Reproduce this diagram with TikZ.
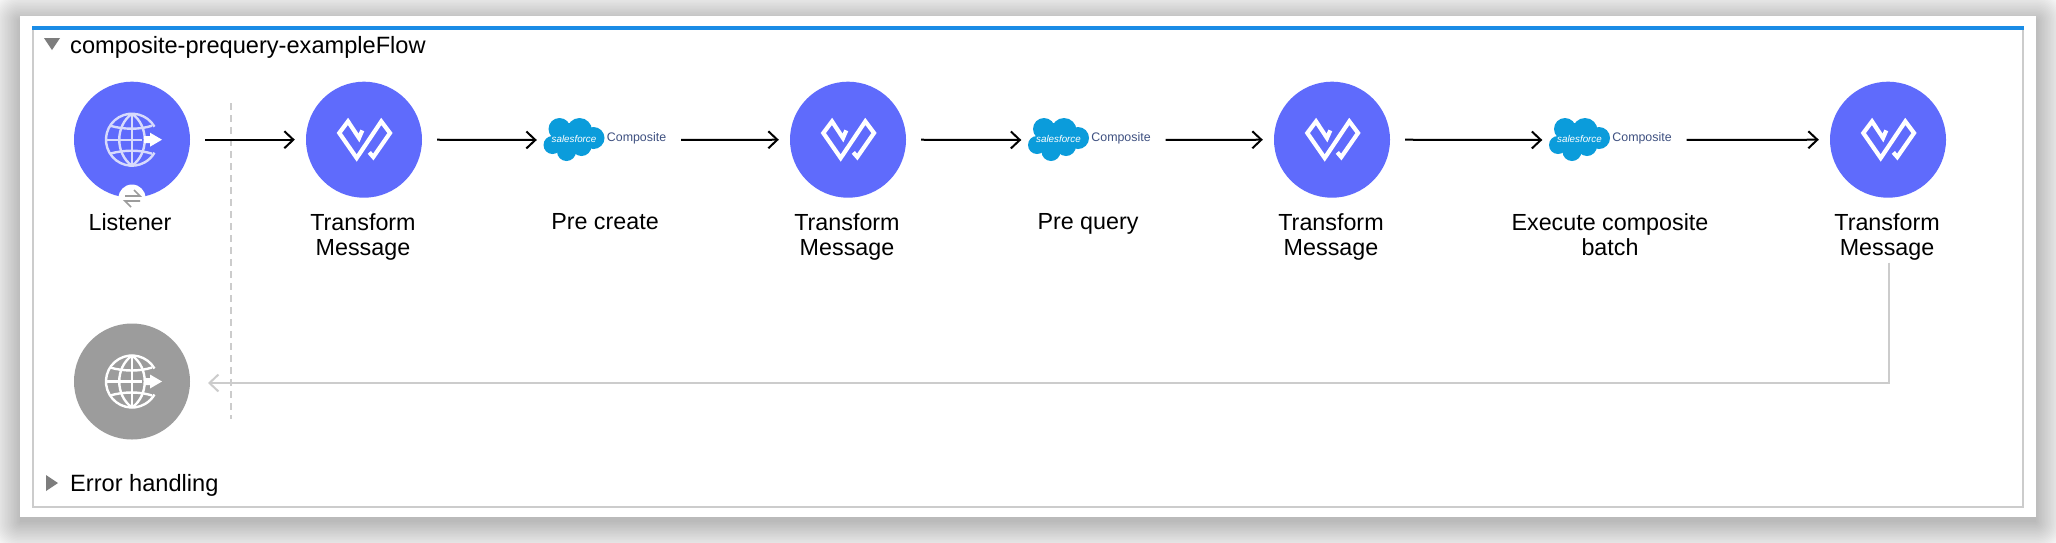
\documentclass[tikz,border=0pt]{standalone}
\usepackage{fontspec}
\setmainfont{Liberation Sans}
\usetikzlibrary{arrows.meta,calc}
\definecolor{flowblue}{HTML}{5F6BFC}
\definecolor{lav}{HTML}{D7DAFC}
\definecolor{greyc}{HTML}{9C9C9C}
\definecolor{linegrey}{HTML}{CCCCCC}
\definecolor{topblue}{HTML}{1A8CE6}
\definecolor{sfblue}{HTML}{0B9CDB}
\definecolor{navy}{HTML}{3E5080}
\tikzset{
  x=1pt,y=-1pt,
  disc/.style={circle,minimum size=116pt,inner sep=0pt,fill=flowblue},
  greydisc/.style={disc,fill=greyc},
  lab/.style={anchor=north,inner sep=0pt,align=center,font=\fontsize{23.3}{25.5}\selectfont,text=black},
  head/.style={anchor=west,inner sep=0pt,font=\fontsize{23.6}{26}\selectfont,text=black},
  sfbox/.style={minimum width=123pt,minimum height=43pt,inner sep=0pt},
  flow/.style={draw=black,line width=2pt,-{Straight Barb[length=9pt,width=17pt,line width=2pt]},shorten <=15pt,shorten >=11pt},
  flowsf/.style={flow,shorten >=6pt},
  ret/.style={draw=linegrey,line width=2pt,-{Straight Barb[length=9pt,width=17pt,line width=2pt]}},
}
\newcommand{\tmicon}[1]{%
  \draw[white,line width=4.2pt,miter limit=10,shift={(#1)}]
    (-1.7,-9.3) -- (-5,-1.7) -- (-16,-18.3) -- (-24.7,-6.7) -- (-7.3,18.3) -- (17.3,-18.3) -- (26,-6.7) -- (9.3,17.3) -- (5.3,12.7);}
\newcommand{\globeicon}[2]{%
  \begin{scope}[shift={(#1)},line width=2.4pt]
    \draw[#2] (0,0) ++(22.5,-13) arc[start angle=30,end angle=330,radius=26pt];
    \draw[#2] (0,-26) -- (0,26);
    \draw[#2] (0,-26) .. controls (-17,-14) and (-17,14) .. (0,26);
    \draw[#2] (0,-26) .. controls (17,-14) and (17,14) .. (0,26);
    \draw[#2] (-22,-14) .. controls (-8,-10) and (8,-10) .. (20,-14);
    \draw[#2] (-22,14) .. controls (-8,10) and (8,10) .. (20,14);
    \draw[#2] (-26,0) -- (10,0);
    \fill[white] (12,-3.5) -- (18,-3.5) -- (18,-7) -- (30,0) -- (18,7) -- (18,3.5) -- (12,3.5) -- cycle;
  \end{scope}}
\newcommand{\sfcloud}[1]{%
  \begin{scope}[shift={(#1)}]
    \fill[sfblue] (-52,5) circle[radius=9pt] (-45,-11) circle[radius=11pt] (-25,-9.5) circle[radius=12.5pt]
      (-11,-2) circle[radius=11pt] (-38,11.5) circle[radius=9.5pt] (-23,6) circle[radius=10pt] (-36,-2) circle[radius=15pt];
    \node[inner sep=0pt,text=white,font=\fontsize{9.8}{12}\selectfont\itshape] at (-30.5,-1.2) {salesforce};
    \node[inner sep=0pt,anchor=west,text=navy,font=\fontsize{12.4}{14}\selectfont] at (2.2,-1.6) {Composite};
  \end{scope}}
\begin{document}
\begin{tikzpicture}
\useasboundingbox (0,0) rectangle (2056,542);
\fill[white] (0,0) rectangle (2056,542);
% soft shadow
\foreach \s in {0,1.5,...,33}{
  \fill[black,opacity=0.013,rounded corners=\s pt] ($(20-\s,16-\s+5)$) rectangle ($(2036+\s,517+\s+5)$);
}
\fill[white] (20,16) rectangle (2036,517);
\draw[linegrey,line width=2pt] (33,28) -- (33,507) -- (2023,507) -- (2023,28);
\fill[topblue] (32,26) rectangle (2024,30);
% headers
\fill[greyc!80!black] (44,38) -- (60,38) -- (52,50) -- cycle;
\node[head] (flowtitle) at (70,47.5) {composite-prequery-exampleFlow};
\fill[greyc!80!black] (46,475) -- (58,483) -- (46,491) -- cycle;
\node[head] (errtitle) at (70,485) {Error handling};
% dashed separator
\draw[linegrey,line width=2pt,dash pattern=on 7pt off 5pt] (231,103) -- (231,419);
% nodes
\node[disc] (lis) at (132,139.7) {};
\node[disc] (t1) at (364,139.7) {};
\node[sfbox] (s1) at (604.5,140) {};
\node[disc] (t2) at (848,139.7) {};
\node[sfbox] (s2) at (1089,140) {};
\node[disc] (t3) at (1332,139.7) {};
\node[sfbox] (s3) at (1610,140) {};
\node[disc] (t4) at (1888,139.7) {};
\node[greydisc] (resp) at (132,381.5) {};
\coordinate (respin) at (132,383);
\node[circle,fill=white,minimum size=27pt,inner sep=0pt] (badge) at (132,198) {};
\draw[greyc,line width=1.7pt] (125,196) -- (140,196) -- (134,190);
\draw[greyc,line width=1.7pt] (140,201) -- (125,201) -- (131,207);
\globeicon{lis.center}{lav}
\globeicon{resp.center}{white}
\tmicon{t1.center}\tmicon{t2.center}\tmicon{t3.center}\tmicon{t4.center}
\sfcloud{s1.center}\sfcloud{s2.center}\sfcloud{s3.center}
% labels
\node[lab] (llis) at (130,213) {Listener};
\node[lab] (lt1) at (363,213) {Transform\\Message};
\node[lab] (ls1) at (605,213) {Pre create};
\node[lab] (lt2) at (847,213) {Transform\\Message};
\node[lab] (ls2) at (1088,213) {Pre query};
\node[lab] (lt3) at (1331,213) {Transform\\Message};
\node[lab] (ls3) at (1610,213) {Execute composite\\batch};
\node[lab] (lt4) at (1887,213) {Transform\\Message};
% connectors
\draw[flow] (lis.east) -- (t1.west);
\draw[flowsf] (t1.east) -- (s1.west);
\draw[flow] (s1.east) -- (t2.west);
\draw[flowsf] (t2.east) -- (s2.west);
\draw[flow] (s2.east) -- (t3.west);
\draw[flowsf] (t3.east) -- (s3.west);
\draw[flow] (s3.east) -- (t4.west);
\draw[ret,shorten <=2pt] ($(lt4.south)+(2,0)$) |- ($(respin)+(76,0)$);
\end{tikzpicture}
\end{document}
